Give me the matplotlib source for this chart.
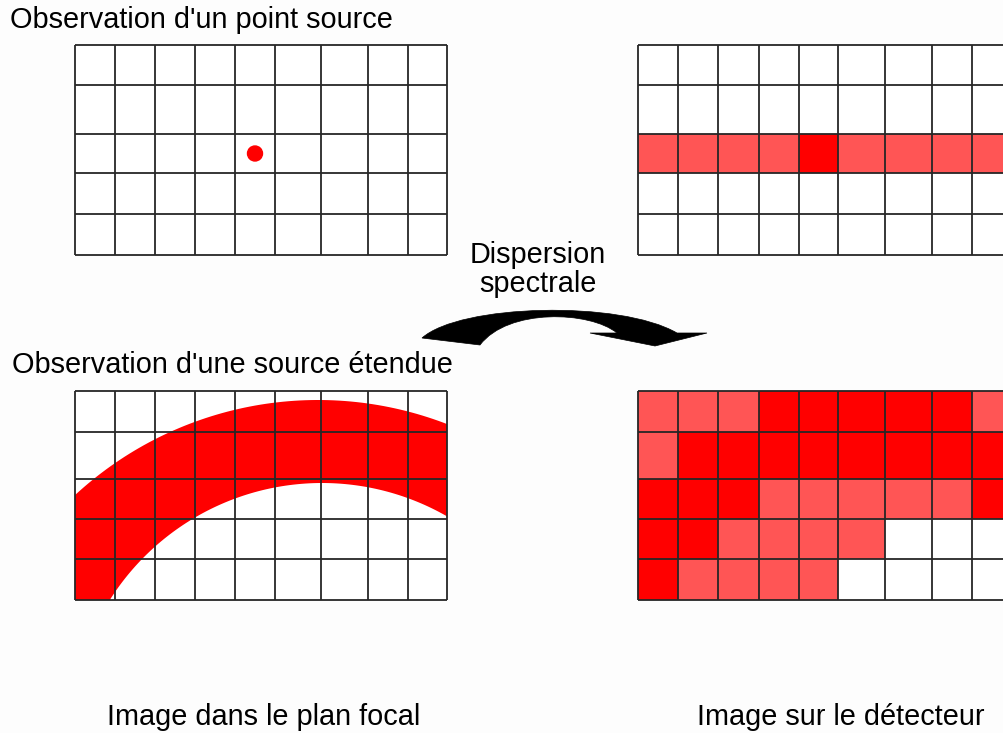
import numpy as np
import matplotlib
matplotlib.use("Agg")
from matplotlib import pyplot as plt
from matplotlib.colors import ListedColormap
from matplotlib.patches import Circle, PathPatch, Rectangle
from matplotlib.path import Path

# grid geometry (pixel units of the picture)
col_edges_left = [75, 115, 155, 195, 235, 275, 321, 368, 408, 447]
col_edges_right = [638, 678, 718, 759, 799, 838, 885, 932, 972, 1011]
row_edges_top = [45, 85, 134, 173, 214, 255]
row_edges_bottom = [391, 432, 479, 519, 559, 600]

# 0 = vide, 1 = rouge clair, 2 = rouge
point_focal = np.zeros((5, 9), dtype=int)
point_detector = np.array([
    [0, 0, 0, 0, 0, 0, 0, 0, 0],
    [0, 0, 0, 0, 0, 0, 0, 0, 0],
    [1, 1, 1, 1, 2, 1, 1, 1, 1],
    [0, 0, 0, 0, 0, 0, 0, 0, 0],
    [0, 0, 0, 0, 0, 0, 0, 0, 0],
])
extended_focal = np.zeros((5, 9), dtype=int)
extended_detector = np.array([
    [1, 1, 1, 2, 2, 2, 2, 2, 1],
    [1, 2, 2, 2, 2, 2, 2, 2, 2],
    [2, 2, 2, 1, 1, 1, 1, 1, 2],
    [2, 2, 1, 1, 1, 1, 0, 0, 0],
    [2, 1, 1, 1, 1, 0, 0, 0, 0],
])
point_cell = (2, 4)  # ligne, colonne de la source ponctuelle

# source etendue : bande entre deux cercles
outer_center, outer_radius = (318, 758), 358
inner_center, inner_radius = (322, 734), 251

cmap = ListedColormap(["#ffffff", "#ff5555", "#ff0000"])
line_color = "#262626"
font = ["Liberation Sans", "DejaVu Sans"]

fig = plt.figure(figsize=(10.04, 7.33), dpi=100)
fig.patch.set_facecolor("#fdfdfd")
ax = fig.add_axes([0, 0, 1, 1])
ax.set_xlim(0, 1004)
ax.set_ylim(733, 0)
ax.set_aspect("equal")
ax.axis("off")


def draw_grid(cols, rows, levels):
    ax.pcolormesh(cols, rows, levels, cmap=cmap, vmin=0, vmax=2, zorder=1)
    ax.vlines(cols, rows[0], rows[-1], colors=line_color, lw=1.3, zorder=3)
    ax.hlines(rows, cols[0], cols[-1], colors=line_color, lw=1.3, zorder=3)


draw_grid(col_edges_left, row_edges_top, point_focal)
draw_grid(col_edges_right, row_edges_top, point_detector)
draw_grid(col_edges_left, row_edges_bottom, extended_focal)
draw_grid(col_edges_right, row_edges_bottom, extended_detector)

# source ponctuelle
r, c = point_cell
cx = (col_edges_left[c] + col_edges_left[c + 1]) / 2
cy = (row_edges_top[r] + row_edges_top[r + 1]) / 2
ax.add_patch(Circle((cx, cy), 7.5, color="#ff0000", zorder=2))

# bande rouge (anneau non concentrique) coupee au cadre
t = np.linspace(0, 2 * np.pi, 400)
outer = np.column_stack([outer_center[0] + outer_radius * np.cos(t),
                         outer_center[1] + outer_radius * np.sin(t)])
inner = np.column_stack([inner_center[0] + inner_radius * np.cos(t[::-1]),
                         inner_center[1] + inner_radius * np.sin(t[::-1])])
band = Path.make_compound_path(Path(outer, closed=True), Path(inner, closed=True))
band_patch = PathPatch(band, facecolor="#ff0000", edgecolor="none", zorder=2)
ax.add_patch(band_patch)
clip = Rectangle((col_edges_left[0], row_edges_bottom[0]),
                 col_edges_left[-1] - col_edges_left[0],
                 row_edges_bottom[-1] - row_edges_bottom[0],
                 transform=ax.transData, visible=False)
ax.add_patch(clip)
band_patch.set_clip_path(clip)

# fleche courbe
verts = [(422, 338), (460, 304), (620, 300), (677, 333),
         (707, 333), (655, 346), (590, 333), (617, 333),
         (590, 311), (508, 308), (480, 345), (422, 338)]
codes = [Path.MOVETO, Path.CURVE4, Path.CURVE4, Path.CURVE4,
         Path.LINETO, Path.LINETO, Path.LINETO, Path.LINETO,
         Path.CURVE4, Path.CURVE4, Path.CURVE4, Path.CLOSEPOLY]
ax.add_patch(PathPatch(Path(verts, codes), facecolor="black", edgecolor="black",
                       lw=0.5, zorder=4))

fs = 20.8
ax.text(10, 28, "Observation d'un point source", fontsize=fs, family=font,
        va="baseline", ha="left")
ax.text(12, 373, "Observation d'une source étendue", fontsize=fs, family=font,
        va="baseline", ha="left")
ax.text(538, 263, "Dispersion", fontsize=fs, family=font, va="baseline", ha="center")
ax.text(538, 292, "spectrale", fontsize=fs, family=font, va="baseline", ha="center")
ax.text(107, 725, "Image dans le plan focal", fontsize=fs, family=font,
        va="baseline", ha="left")
ax.text(697, 725, "Image sur le détecteur", fontsize=fs, family=font,
        va="baseline", ha="left")

fig.savefig("out.png", dpi=100, facecolor=fig.get_facecolor())
